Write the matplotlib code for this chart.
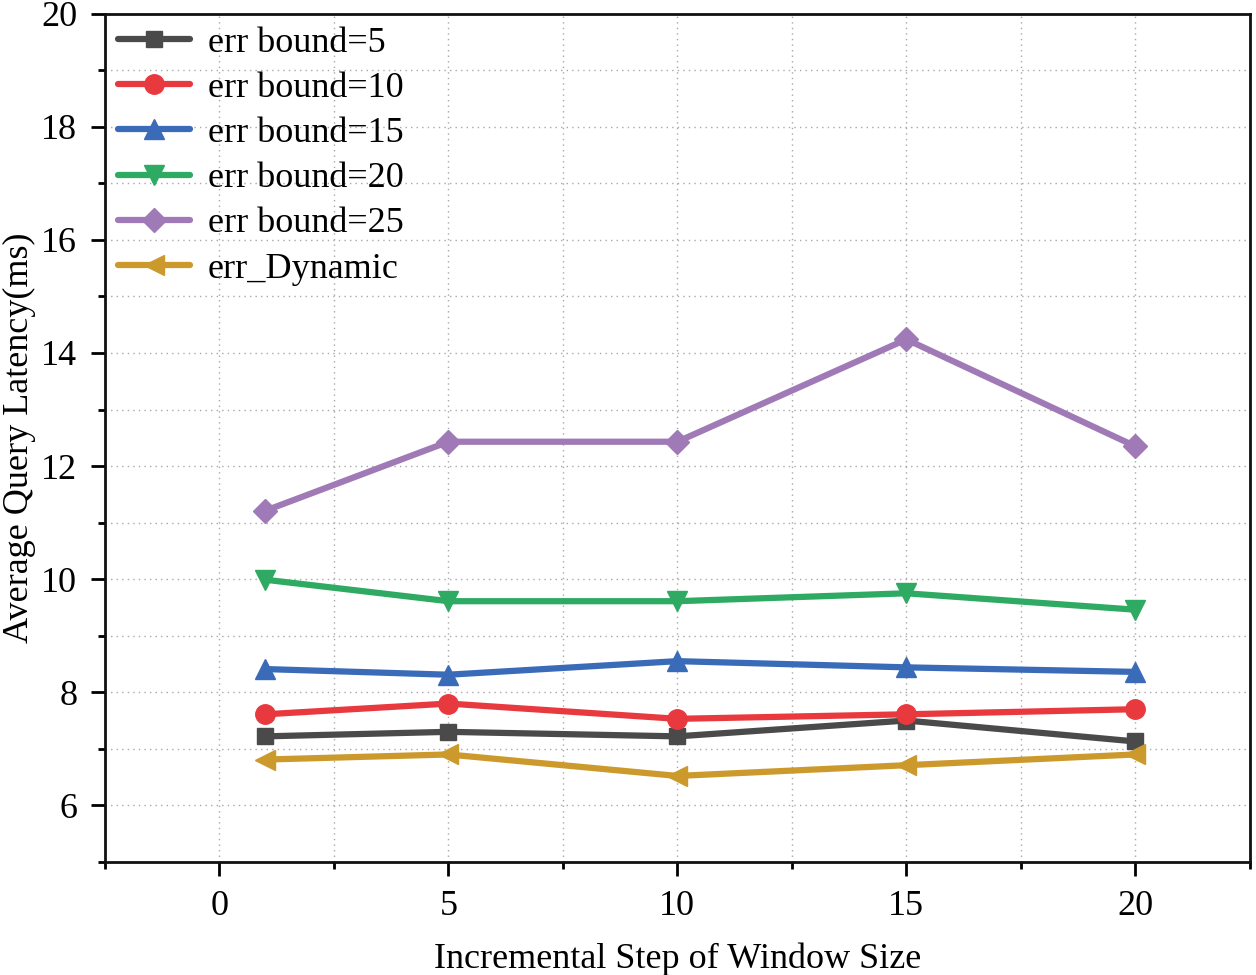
import matplotlib.pyplot as plt
from matplotlib.ticker import MultipleLocator

plt.rcParams['font.family'] = ['Liberation Serif', 'DejaVu Serif']
plt.rcParams['mathtext.fontset'] = 'stix'

steps = [1, 5, 10, 15, 20]

labels = ["err bound=5", "err bound=10", "err bound=15",
          "err bound=20", "err bound=25", "err_Dynamic"]
err5 = [7.22, 7.30, 7.22, 7.50, 7.13]
err10 = [7.61, 7.80, 7.53, 7.61, 7.70]
err15 = [8.41, 8.31, 8.55, 8.44, 8.36]
err20 = [9.99, 9.61, 9.61, 9.75, 9.46]
err25 = [11.21, 12.43, 12.43, 14.24, 12.35]
err_dyn = [6.81, 6.90, 6.52, 6.71, 6.90]

series = [err5, err10, err15, err20, err25, err_dyn]
colors = ["#4a4a4a", "#e8393e", "#3a6bb8", "#2eaa63", "#a07ab6", "#cc9a2c"]
markers = ["s", "o", "^", "v", "D", "<"]
msizes = [12, 14, 14, 14, 12, 15]

fig = plt.figure(figsize=(12.56, 9.75), dpi=100)
ax = fig.add_axes([0.0836, 0.116, 0.9114, 0.8700])

for y, lab, c, m, ms in zip(series, labels, colors, markers, msizes):
    ax.plot(steps, y, color=c, marker=m, markersize=ms, linewidth=4.5,
            label=lab, solid_capstyle='round')

ax.set_xlim(-2.5, 22.5)
ax.set_ylim(5, 20)
ax.xaxis.set_major_locator(MultipleLocator(5))
ax.xaxis.set_minor_locator(MultipleLocator(2.5))
ax.yaxis.set_minor_locator(MultipleLocator(1))
ax.set_yticks([6, 8, 10, 12, 14, 16, 18, 20])

ax.grid(True, which='both', linestyle=(0, (1, 3)), color='#a8a8a8', linewidth=1.0)
ax.set_axisbelow(True)

for s in ax.spines.values():
    s.set_linewidth(2.0)
    s.set_color('#111111')

ax.tick_params(which='major', direction='out', length=10, width=2,
               labelsize=26, top=False, right=False, pad=10)
ax.tick_params(which='minor', direction='out', length=5, width=2,
               top=False, right=False)

ax.set_xlabel("Incremental Step of Window Size", fontsize=26, labelpad=14)
ax.set_ylabel("Average Query Latency(ms)", fontsize=26, labelpad=4)

ax.legend(loc='upper left', frameon=False, fontsize=26, handlelength=2.0,
          handletextpad=0.5, labelspacing=0.33, borderaxespad=0.0,
          borderpad=0.35)

fig.savefig("out.png", dpi=100)
